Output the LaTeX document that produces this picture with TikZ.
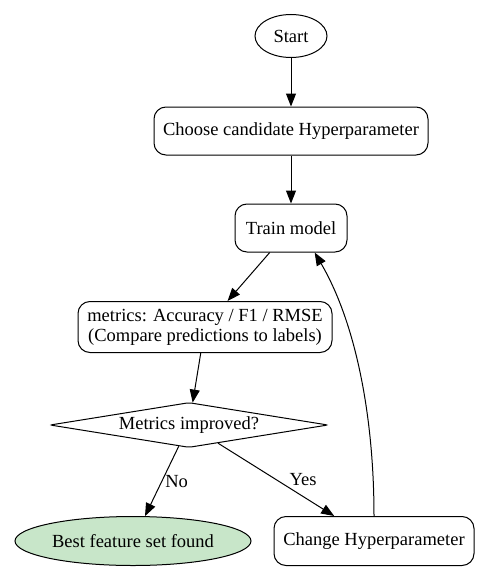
\documentclass[tikz,border=0pt]{standalone}
\usepackage{fontspec}
\setmainfont{Liberation Serif}
\usetikzlibrary{shapes.geometric,arrows.meta}
\begin{document}
\begin{tikzpicture}[x=1pt,y=-1pt,
  every node/.style={font=\fontsize{18.5}{20}\selectfont, inner sep=0pt},
  rbox/.style={draw, rounded corners=12pt, line width=1pt, align=center},
  oval/.style={draw, ellipse, line width=1pt},
  dia/.style={draw, diamond, aspect=6, line width=1pt, rounded corners=2pt},
  arr/.style={-{Triangle[length=13pt,width=10pt]}, line width=1pt},
  lbl/.style={anchor=west, fill=none}
]
\useasboundingbox (0,0) rectangle (491,586);
\node[oval, minimum width=72, minimum height=43] (start) at (291,36) {Start};
\node[rbox, minimum width=274, minimum height=48] (choose) at (291,131) {Choose candidate Hyperparameter};
\node[rbox, minimum width=112, minimum height=48] (train) at (291,228) {Train model};
\node[rbox, minimum width=254, minimum height=51] (metrics) at (205,327) {metrics: Accuracy / F1 / RMSE\\(Compare predictions to labels)};
\node[dia, minimum width=278, minimum height=45] (dec) at (189,425) {Metrics improved?};
\node[oval, fill={rgb,255:red,200;green,230;blue,201}, minimum width=236, minimum height=49] (best) at (133,541) {Best feature set found};
\node[rbox, minimum width=200, minimum height=49] (change) at (374,541) {Change Hyperparameter};
\draw[arr] (start) -- (choose);
\draw[arr] (choose) -- (train);
\draw[arr] (train) -- (metrics);
\draw[arr] (metrics) -- (dec);
\draw[arr] (dec) -- node[lbl, xshift=3pt] {No} (best);
\draw[arr] (dec) -- node[lbl, xshift=13pt] {Yes} (change);
\draw[arr] (change.north) .. controls +(0,-97) and +(42,72) .. (train.-46);
\end{tikzpicture}
\end{document}
